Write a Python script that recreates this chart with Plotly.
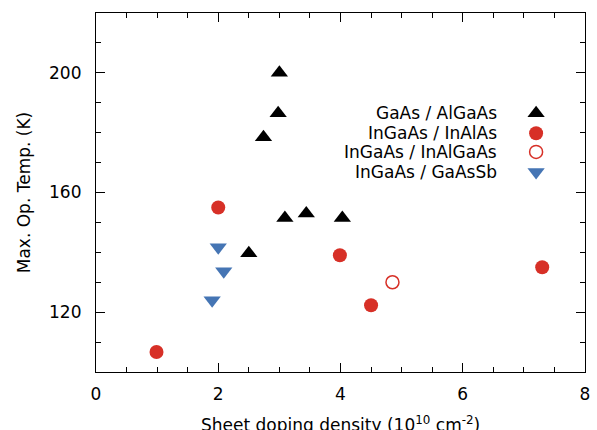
import plotly.graph_objects as go

# Data
gaas_x = [3.0, 2.98, 2.74, 3.09, 3.44, 4.03, 2.5]
gaas_y = [200, 186.5, 178.5, 151.5, 153, 151.5, 139.7]
inalas_x = [0.99, 2.0, 3.99, 4.5, 7.3]
inalas_y = [106.7, 155, 139, 122.3, 135]
inalgaas_x = [4.85]
inalgaas_y = [130]
gaassb_x = [2.0, 2.09, 1.9]
gaassb_y = [141.7, 133.7, 124]

legend_names = ["GaAs / AlGaAs", "InGaAs / InAlAs", "InGaAs / InAlGaAs", "InGaAs / GaAsSb"]
x_title = "Sheet doping density (10<sup>10</sup> cm<sup>-2</sup>)"
y_title = "Max. Op. Temp. (K)"

RED = "#d73027"
BLUE = "#4575b4"
FONT = "DejaVu Sans"
FS = 17

fig = go.Figure()
styles = [
    dict(symbol="triangle-up", color="black", size=15, line=dict(width=0)),
    dict(symbol="circle", color=RED, size=14, line=dict(width=0)),
    dict(symbol="circle-open", color=RED, size=13, line=dict(width=1.5, color=RED)),
    dict(symbol="triangle-down", color=BLUE, size=15, line=dict(width=0)),
]
series = [(gaas_x, gaas_y), (inalas_x, inalas_y), (inalgaas_x, inalgaas_y), (gaassb_x, gaassb_y)]
for (xs, ys), st, nm in zip(series, styles, legend_names):
    fig.add_trace(go.Scatter(x=xs, y=ys, mode="markers", marker=st, name=nm,
                             showlegend=False, cliponaxis=False))

# Manual legend (text to the left of the symbol)
leg_y = [0.721, 0.665, 0.613, 0.557]
for nm, st, yy in zip(legend_names, styles, leg_y):
    fig.add_trace(go.Scatter(x=[0.90], y=[yy], mode="markers", marker=st,
                             xaxis="x2", yaxis="y2", showlegend=False, hoverinfo="skip"))
    fig.add_annotation(x=0.824, y=yy, xref="paper", yref="paper", text=nm,
                       showarrow=False, xanchor="right", yanchor="middle",
                       font=dict(family=FONT, size=FS, color="black"))

# X axis title (placed as annotation so it can sit low, as in the reference)
fig.add_annotation(x=0.5, y=-0.145, xref="paper", yref="paper", text=x_title,
                   showarrow=False, xanchor="center", yanchor="middle",
                   font=dict(family=FONT, size=FS, color="black"))

axis_common = dict(showline=True, linecolor="black", linewidth=1.2, mirror="allticks",
                   ticks="inside", tickcolor="black", tickwidth=1.1, ticklen=9,
                   showgrid=False, zeroline=False, automargin=False,
                   tickfont=dict(family=FONT, size=FS, color="black"))

fig.update_layout(
    width=597, height=430,
    margin=dict(l=96, r=12, t=13, b=58),
    plot_bgcolor="white", paper_bgcolor="white",
    font=dict(family=FONT, size=FS, color="black"),
    xaxis=dict(range=[0, 8], dtick=2, tick0=0, ticklabelstandoff=6,
               minor=dict(dtick=0.5, ticks="inside", ticklen=5, tickcolor="black", tickwidth=1.1),
               **axis_common),
    yaxis=dict(range=[100, 220], dtick=40, tick0=120, ticklabelstandoff=10,
               minor=dict(dtick=10, ticks="inside", ticklen=5, tickcolor="black", tickwidth=1.1),
               title=dict(text=y_title, font=dict(family=FONT, size=FS), standoff=14),
               **axis_common),
    xaxis2=dict(range=[0, 1], overlaying="x", visible=False, fixedrange=True),
    yaxis2=dict(range=[0, 1], overlaying="y", visible=False, fixedrange=True),
)

fig.write_html("out.html")
